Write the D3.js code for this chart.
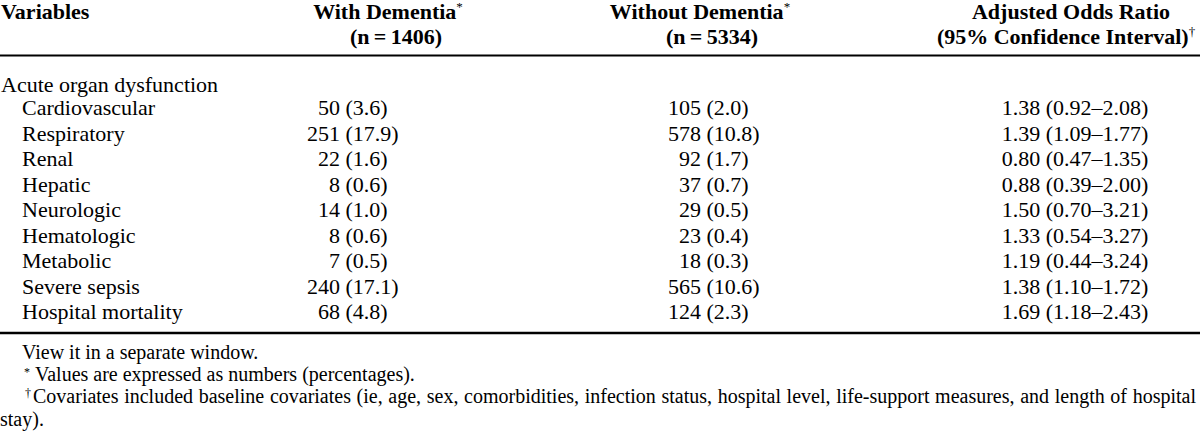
<!DOCTYPE html>
<html>
<head>
<meta charset="utf-8">
<script src="https://cdn.jsdelivr.net/npm/d3@7"></script>
<style>
  html, body { margin: 0; padding: 0; background: #fff; }
  svg { display: block; }
  text { font-family: "Liberation Serif", "Times New Roman", serif; fill: #000; }
</style>
</head>
<body>
<svg id="chart" width="1200" height="434"></svg>
<script>
// ---- data ----
const groupLabel = "Acute organ dysfunction";
const variables = ["Cardiovascular", "Respiratory", "Renal", "Hepatic", "Neurologic",
  "Hematologic", "Metabolic", "Severe sepsis", "Hospital mortality"];
const withN = [50, 251, 22, 8, 14, 8, 7, 240, 68];
const withPct = ["3.6", "17.9", "1.6", "0.6", "1.0", "0.6", "0.5", "17.1", "4.8"];
const withoutN = [105, 578, 92, 37, 29, 23, 18, 565, 124];
const withoutPct = ["2.0", "10.8", "1.7", "0.7", "0.5", "0.4", "0.3", "10.6", "2.3"];
const oddsRatio = ["1.38", "1.39", "0.80", "0.88", "1.50", "1.33", "1.19", "1.38", "1.69"];
const ciLow = ["0.92", "1.09", "0.47", "0.39", "0.70", "0.54", "0.44", "1.10", "1.18"];
const ciHigh = ["2.08", "1.77", "1.35", "2.00", "3.21", "3.27", "3.24", "1.72", "2.43"];
const headers = [
  { line1: "Variables", sup1: "", line2: "" },
  { line1: "With Dementia", sup1: "*", line2: "(n\u2009=\u20091406)" },
  { line1: "Without Dementia", sup1: "*", line2: "(n\u2009=\u20095334)" },
  { line1: "Adjusted Odds Ratio", sup1: "", line2: "(95% Confidence Interval)", sup2: "\u2020" }
];
const footnotes = [
  { mark: "", text: "View it in a separate window." },
  { mark: "*", text: "Values are expressed as numbers (percentages)." },
  { mark: "\u2020", text: "Covariates included baseline covariates (ie, age, sex, comorbidities, infection status, hospital level, life-support measures, and length of hospital" },
  { mark: "", text: "stay)." }
];

// ---- layout ----
const svg = d3.select("#chart");
const W = 1200;
const FS = 22, FN = 20;

const y = d3.scalePoint().domain(variables).range([115, 319]);
const yGroup = 91.5;

// column anchors
const colX = d3.scaleOrdinal()
  .domain(["var", "withN", "withoutN", "or"])
  .range([0, 340, 701, 1075]);
const headCenter = d3.scaleOrdinal().domain([1, 2, 3]).range([388, 700, 1071]);
const headCenter2 = d3.scaleOrdinal().domain([1, 2, 3]).range([396, 712, 1066]);

// header
const hg = svg.append("g").attr("font-weight", "bold").attr("font-size", FS);
hg.append("text").attr("x", 1).attr("y", 19).text(headers[0].line1);
headers.slice(1).forEach((h, i) => {
  const t1 = hg.append("text").attr("x", headCenter(i + 1)).attr("y", 19).attr("text-anchor", "middle");
  t1.append("tspan").text(h.line1);
  if (h.sup1) t1.append("tspan").attr("font-size", 13).attr("dy", -8).attr("font-weight", "normal").text(h.sup1);
  const t2 = hg.append("text").attr("x", headCenter2(i + 1)).attr("y", 44).attr("text-anchor", "middle");
  t2.append("tspan").text(h.line2);
  if (h.sup2) t2.append("tspan").attr("font-size", 13).attr("dy", -8).attr("font-weight", "normal").text(h.sup2);
});

// rules
svg.append("line").attr("x1", 0).attr("x2", W).attr("y1", 55.5).attr("y2", 55.5)
  .attr("stroke", "#000").attr("stroke-width", 2);
svg.append("line").attr("x1", 0).attr("x2", W).attr("y1", 333).attr("y2", 333)
  .attr("stroke", "#000").attr("stroke-width", 2.6);

// body
const bg = svg.append("g").attr("font-size", FS);
bg.append("text").attr("x", 1).attr("y", yGroup).text(groupLabel);

const rows = bg.selectAll("g.row").data(variables).join("g").attr("class", "row")
  .attr("transform", d => `translate(0,${y(d)})`);
rows.append("text").attr("x", 22).text(d => d);
rows.append("text").attr("x", colX("withN")).attr("text-anchor", "end").text((d, i) => withN[i]);
rows.append("text").attr("x", colX("withN") + 5.5).text((d, i) => `(${withPct[i]})`);
rows.append("text").attr("x", colX("withoutN")).attr("text-anchor", "end").text((d, i) => withoutN[i]);
rows.append("text").attr("x", colX("withoutN") + 5.5).text((d, i) => `(${withoutPct[i]})`);
rows.append("text").attr("x", colX("or")).attr("text-anchor", "middle")
  .text((d, i) => `${oddsRatio[i]} (${ciLow[i]}\u2013${ciHigh[i]})`);

// footnotes
const fy = d3.scalePoint().domain(d3.range(footnotes.length)).range([359, 425.5]);
const fg = svg.append("g").attr("font-size", FN);
footnotes.forEach((f, i) => {
  if (i === 0) {
    fg.append("text").attr("x", 22).attr("y", fy(i)).text(f.text);
  } else if (f.mark === "*") {
    fg.append("text").attr("x", 24).attr("y", fy(i) - 5).attr("font-size", 12).text(f.mark);
    fg.append("text").attr("x", 35).attr("y", fy(i)).text(f.text);
  } else if (f.mark) {
    fg.append("text").attr("x", 25).attr("y", fy(i) - 6).attr("font-size", 12).text(f.mark);
    const t = fg.append("text").attr("x", 33).attr("y", fy(i)).text(f.text);
    // justified line: stretch word spacing to the right edge
    const natural = t.node().getComputedTextLength();
    const spaces = (f.text.match(/ /g) || []).length;
    const target = 1196 - 33;
    if (spaces > 0 && natural < target) t.attr("word-spacing", (target - natural) / spaces);
    else if (natural > target) t.attr("textLength", target).attr("lengthAdjust", "spacingAndGlyphs");
  } else {
    fg.append("text").attr("x", 0).attr("y", fy(i)).text(f.text);
  }
});
</script>
</body>
</html>
